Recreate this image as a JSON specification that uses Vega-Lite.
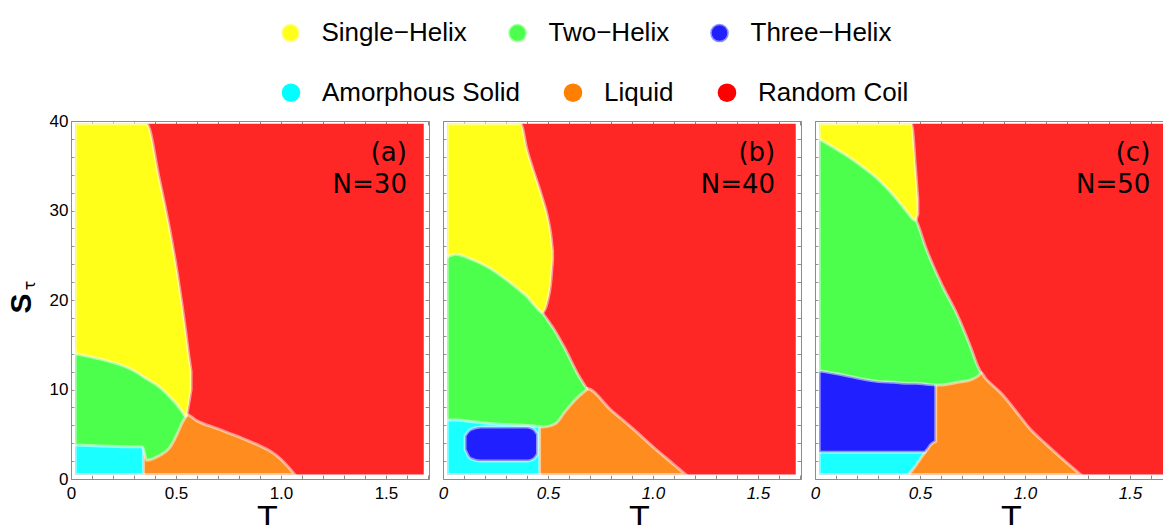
{
  "$schema": "https://vega.github.io/schema/vega-lite/v6.json",
  "background": "white",
  "padding": {"left": 5, "top": 19, "right": 0, "bottom": 0},
  "config": {
    "view": {"stroke": "#8c8c8c", "strokeWidth": 1},
    "axis": {
      "labelFont": "Liberation Sans", "labelFontSize": 17, "labelColor": "black",
      "tickColor": "#8c8c8c", "tickSize": -4, "domain": false, "grid": false,
      "labelFlush": false, "labelOverlap": false, "zindex": 1,
      "titleFont": "Liberation Sans", "titleColor": "black", "titleFontWeight": "normal"
    },
    "legend": {
      "orient": "none", "direction": "horizontal", "columns": 3, "columnPadding": 34, "title": null,
      "symbolType": "circle", "symbolSize": 346, "symbolStrokeWidth": 0, "symbolOpacity": 1,
      "labelFont": "Liberation Sans", "labelFontSize": 26, "labelOffset": 18, "labelLimit": 400, "labelColor": "black"
    },
    "area": {"stroke": "white", "strokeOpacity": 0.5, "strokeWidth": 3}
  },
  "datasets": {
    "regions": [
      {"p":"a","ph":"Random Coil","T":0.02,"lo":0.5,"hi":39.7},{"p":"a","ph":"Random Coil","T":1.68,"lo":0.5,"hi":39.7},
      {"p":"a","ph":"Liquid","T":0.33,"lo":0.5,"hi":3.8},{"p":"a","ph":"Liquid","T":0.36,"lo":0.5,"hi":2.8},{"p":"a","ph":"Liquid","T":0.42,"lo":0.5,"hi":3.1},{"p":"a","ph":"Liquid","T":0.47,"lo":0.5,"hi":4.0},{"p":"a","ph":"Liquid","T":0.505,"lo":0.5,"hi":5.5},{"p":"a","ph":"Liquid","T":0.53,"lo":0.5,"hi":6.8},{"p":"a","ph":"Liquid","T":0.55,"lo":0.5,"hi":7.2},{"p":"a","ph":"Liquid","T":0.6,"lo":0.5,"hi":6.5},{"p":"a","ph":"Liquid","T":0.7,"lo":0.5,"hi":5.6},{"p":"a","ph":"Liquid","T":0.8,"lo":0.5,"hi":4.7},{"p":"a","ph":"Liquid","T":0.9,"lo":0.5,"hi":3.7},{"p":"a","ph":"Liquid","T":0.95,"lo":0.5,"hi":3.1},{"p":"a","ph":"Liquid","T":1.0,"lo":0.5,"hi":2.2},{"p":"a","ph":"Liquid","T":1.04,"lo":0.5,"hi":1.2},{"p":"a","ph":"Liquid","T":1.065,"lo":0.5,"hi":0.5},
      {"p":"a","ph":"Amorphous Solid","T":0.02,"lo":0.5,"hi":4.2},{"p":"a","ph":"Amorphous Solid","T":0.2,"lo":0.5,"hi":4.1},{"p":"a","ph":"Amorphous Solid","T":0.3,"lo":0.5,"hi":4.0},{"p":"a","ph":"Amorphous Solid","T":0.345,"lo":0.5,"hi":3.9},
      {"p":"a","ph":"Two−Helix","T":0.02,"lo":3.8,"hi":14.5},{"p":"a","ph":"Two−Helix","T":0.14,"lo":3.7,"hi":13.9},{"p":"a","ph":"Two−Helix","T":0.3,"lo":3.6,"hi":12.6},{"p":"a","ph":"Two−Helix","T":0.34,"lo":3.6,"hi":12.0},{"p":"a","ph":"Two−Helix","T":0.36,"lo":2.1,"hi":11.7},{"p":"a","ph":"Two−Helix","T":0.42,"lo":2.6,"hi":10.8},{"p":"a","ph":"Two−Helix","T":0.47,"lo":3.5,"hi":9.7},{"p":"a","ph":"Two−Helix","T":0.505,"lo":5.0,"hi":8.8},{"p":"a","ph":"Two−Helix","T":0.53,"lo":6.3,"hi":8.0},{"p":"a","ph":"Two−Helix","T":0.548,"lo":7.0,"hi":7.3},
      {"p":"a","ph":"Single−Helix","T":0.02,"lo":14.0,"hi":39.7},{"p":"a","ph":"Single−Helix","T":0.14,"lo":13.4,"hi":39.7},{"p":"a","ph":"Single−Helix","T":0.3,"lo":12.1,"hi":39.7},{"p":"a","ph":"Single−Helix","T":0.36,"lo":11.2,"hi":39.7},{"p":"a","ph":"Single−Helix","T":0.42,"lo":10.3,"hi":33.6},{"p":"a","ph":"Single−Helix","T":0.47,"lo":9.2,"hi":27.9},{"p":"a","ph":"Single−Helix","T":0.505,"lo":8.3,"hi":23.2},{"p":"a","ph":"Single−Helix","T":0.53,"lo":7.5,"hi":19.3},{"p":"a","ph":"Single−Helix","T":0.548,"lo":7.0,"hi":16.2},{"p":"a","ph":"Single−Helix","T":0.56,"lo":8.3,"hi":14.0},{"p":"a","ph":"Single−Helix","T":0.572,"lo":10.0,"hi":12.0},

      {"p":"b","ph":"Random Coil","T":0.02,"lo":0.5,"hi":39.7},{"p":"b","ph":"Random Coil","T":1.68,"lo":0.5,"hi":39.7},
      {"p":"b","ph":"Liquid","T":0.44,"lo":0.5,"hi":6.2},{"p":"b","ph":"Liquid","T":0.473,"lo":0.5,"hi":6.3},{"p":"b","ph":"Liquid","T":0.537,"lo":0.5,"hi":6.7},{"p":"b","ph":"Liquid","T":0.58,"lo":0.5,"hi":8.0},{"p":"b","ph":"Liquid","T":0.645,"lo":0.5,"hi":9.7},{"p":"b","ph":"Liquid","T":0.685,"lo":0.5,"hi":10.1},{"p":"b","ph":"Liquid","T":0.8,"lo":0.5,"hi":7.7},{"p":"b","ph":"Liquid","T":0.9,"lo":0.5,"hi":5.7},{"p":"b","ph":"Liquid","T":1.0,"lo":0.5,"hi":3.6},{"p":"b","ph":"Liquid","T":1.1,"lo":0.5,"hi":1.6},{"p":"b","ph":"Liquid","T":1.155,"lo":0.5,"hi":0.5},
      {"p":"b","ph":"Amorphous Solid","T":0.02,"lo":0.5,"hi":7.0},{"p":"b","ph":"Amorphous Solid","T":0.15,"lo":0.5,"hi":7.0},{"p":"b","ph":"Amorphous Solid","T":0.3,"lo":0.5,"hi":6.6},{"p":"b","ph":"Amorphous Solid","T":0.46,"lo":0.5,"hi":6.2},
      {"p":"b","ph":"Three−Helix","T":0.105,"lo":3.3,"hi":4.8},{"p":"b","ph":"Three−Helix","T":0.13,"lo":2.3,"hi":5.5},{"p":"b","ph":"Three−Helix","T":0.18,"lo":2.0,"hi":5.8},{"p":"b","ph":"Three−Helix","T":0.3,"lo":2.0,"hi":5.8},{"p":"b","ph":"Three−Helix","T":0.4,"lo":2.0,"hi":5.8},{"p":"b","ph":"Three−Helix","T":0.43,"lo":2.2,"hi":5.6},{"p":"b","ph":"Three−Helix","T":0.45,"lo":2.8,"hi":5.0},
      {"p":"b","ph":"Two−Helix","T":0.02,"lo":6.6,"hi":25.3},{"p":"b","ph":"Two−Helix","T":0.06,"lo":6.6,"hi":25.6},{"p":"b","ph":"Two−Helix","T":0.14,"lo":6.4,"hi":25.0},{"p":"b","ph":"Two−Helix","T":0.22,"lo":6.2,"hi":24.1},{"p":"b","ph":"Two−Helix","T":0.3,"lo":6.1,"hi":22.8},{"p":"b","ph":"Two−Helix","T":0.378,"lo":6.0,"hi":21.3},{"p":"b","ph":"Two−Helix","T":0.44,"lo":5.9,"hi":19.8},{"p":"b","ph":"Two−Helix","T":0.473,"lo":5.8,"hi":18.6},{"p":"b","ph":"Two−Helix","T":0.537,"lo":6.2,"hi":16.4},{"p":"b","ph":"Two−Helix","T":0.58,"lo":7.5,"hi":14.6},{"p":"b","ph":"Two−Helix","T":0.645,"lo":9.2,"hi":11.6},{"p":"b","ph":"Two−Helix","T":0.685,"lo":10.0,"hi":10.1},
      {"p":"b","ph":"Single−Helix","T":0.02,"lo":24.8,"hi":39.7},{"p":"b","ph":"Single−Helix","T":0.06,"lo":25.1,"hi":39.7},{"p":"b","ph":"Single−Helix","T":0.14,"lo":24.5,"hi":39.7},{"p":"b","ph":"Single−Helix","T":0.22,"lo":23.6,"hi":39.7},{"p":"b","ph":"Single−Helix","T":0.3,"lo":22.3,"hi":39.7},{"p":"b","ph":"Single−Helix","T":0.37,"lo":21.0,"hi":39.7},{"p":"b","ph":"Single−Helix","T":0.4,"lo":20.4,"hi":36.8},{"p":"b","ph":"Single−Helix","T":0.44,"lo":19.3,"hi":33.8},{"p":"b","ph":"Single−Helix","T":0.473,"lo":18.6,"hi":31.4},{"p":"b","ph":"Single−Helix","T":0.497,"lo":19.8,"hi":29.4},{"p":"b","ph":"Single−Helix","T":0.513,"lo":21.9,"hi":27.4},{"p":"b","ph":"Single−Helix","T":0.522,"lo":24.5,"hi":25.5},

      {"p":"c","ph":"Random Coil","T":0.02,"lo":0.5,"hi":39.7},{"p":"c","ph":"Random Coil","T":1.68,"lo":0.5,"hi":39.7},
      {"p":"c","ph":"Liquid","T":0.43,"lo":0.5,"hi":3.4},{"p":"c","ph":"Liquid","T":0.5,"lo":0.5,"hi":3.4},{"p":"c","ph":"Liquid","T":0.54,"lo":0.5,"hi":4.5},{"p":"c","ph":"Liquid","T":0.56,"lo":0.5,"hi":8.0},{"p":"c","ph":"Liquid","T":0.575,"lo":0.5,"hi":11.0},{"p":"c","ph":"Liquid","T":0.64,"lo":0.5,"hi":11.0},{"p":"c","ph":"Liquid","T":0.7,"lo":0.5,"hi":11.2},{"p":"c","ph":"Liquid","T":0.79,"lo":0.5,"hi":11.9},{"p":"c","ph":"Liquid","T":0.81,"lo":0.5,"hi":11.3},{"p":"c","ph":"Liquid","T":0.89,"lo":0.5,"hi":9.5},{"p":"c","ph":"Liquid","T":0.956,"lo":0.5,"hi":7.6},{"p":"c","ph":"Liquid","T":1.02,"lo":0.5,"hi":5.7},{"p":"c","ph":"Liquid","T":1.1,"lo":0.5,"hi":3.9},{"p":"c","ph":"Liquid","T":1.19,"lo":0.5,"hi":2.0},{"p":"c","ph":"Liquid","T":1.265,"lo":0.5,"hi":0.5},
      {"p":"c","ph":"Amorphous Solid","T":0.02,"lo":0.5,"hi":3.4},{"p":"c","ph":"Amorphous Solid","T":0.44,"lo":0.5,"hi":3.4},{"p":"c","ph":"Amorphous Solid","T":0.47,"lo":1.2,"hi":3.4},{"p":"c","ph":"Amorphous Solid","T":0.5,"lo":2.2,"hi":3.4},{"p":"c","ph":"Amorphous Solid","T":0.525,"lo":3.0,"hi":3.4},
      {"p":"c","ph":"Three−Helix","T":0.02,"lo":3.0,"hi":12.6},{"p":"c","ph":"Three−Helix","T":0.14,"lo":3.0,"hi":12.0},{"p":"c","ph":"Three−Helix","T":0.3,"lo":3.0,"hi":11.4},{"p":"c","ph":"Three−Helix","T":0.45,"lo":3.0,"hi":11.2},{"p":"c","ph":"Three−Helix","T":0.52,"lo":3.0,"hi":11.2},{"p":"c","ph":"Three−Helix","T":0.535,"lo":3.3,"hi":11.2},{"p":"c","ph":"Three−Helix","T":0.55,"lo":3.8,"hi":11.2},{"p":"c","ph":"Three−Helix","T":0.575,"lo":4.2,"hi":11.2},
      {"p":"c","ph":"Two−Helix","T":0.02,"lo":12.1,"hi":38.5},{"p":"c","ph":"Two−Helix","T":0.14,"lo":11.6,"hi":36.8},{"p":"c","ph":"Two−Helix","T":0.22,"lo":11.2,"hi":35.5},{"p":"c","ph":"Two−Helix","T":0.3,"lo":10.9,"hi":34.0},{"p":"c","ph":"Two−Helix","T":0.378,"lo":10.8,"hi":32.1},{"p":"c","ph":"Two−Helix","T":0.44,"lo":10.7,"hi":30.3},{"p":"c","ph":"Two−Helix","T":0.48,"lo":10.7,"hi":29.0},{"p":"c","ph":"Two−Helix","T":0.53,"lo":10.6,"hi":25.7},{"p":"c","ph":"Two−Helix","T":0.6,"lo":10.5,"hi":21.9},{"p":"c","ph":"Two−Helix","T":0.68,"lo":10.8,"hi":18.2},{"p":"c","ph":"Two−Helix","T":0.745,"lo":11.1,"hi":14.5},{"p":"c","ph":"Two−Helix","T":0.775,"lo":11.5,"hi":12.6},{"p":"c","ph":"Two−Helix","T":0.79,"lo":11.8,"hi":11.9},
      {"p":"c","ph":"Single−Helix","T":0.02,"lo":38.0,"hi":39.7},{"p":"c","ph":"Single−Helix","T":0.14,"lo":36.3,"hi":39.7},{"p":"c","ph":"Single−Helix","T":0.22,"lo":35.0,"hi":39.7},{"p":"c","ph":"Single−Helix","T":0.3,"lo":33.5,"hi":39.7},{"p":"c","ph":"Single−Helix","T":0.378,"lo":31.6,"hi":39.7},{"p":"c","ph":"Single−Helix","T":0.44,"lo":29.8,"hi":39.7},{"p":"c","ph":"Single−Helix","T":0.46,"lo":29.2,"hi":39.7},{"p":"c","ph":"Single−Helix","T":0.478,"lo":28.9,"hi":35.0},{"p":"c","ph":"Single−Helix","T":0.49,"lo":29.6,"hi":31.2}
    ],
    "labels": [
      {"p":"a","id":"(a)","n":"N=30"},
      {"p":"b","id":"(b)","n":"N=40"},
      {"p":"c","id":"(c)","n":"N=50"}
    ],
    "legend2": [
      {"name": "Amorphous Solid"},
      {"name": "Liquid"},
      {"name": "Random Coil"}
    ]
  },
  "spacing": 7,
  "hconcat": [
    {
      "width": 358, "height": 358,
      "layer": [
        {
          "data": {"name": "regions"},
          "transform": [{"filter": "datum.p === 'a'"}],
          "encoding": {
            "x": {"field": "T", "type": "quantitative", "scale": {"domain": [0, 1.705], "nice": false, "zero": false},
              "axis": {"orient": "bottom", "values": [0,0.1,0.2,0.3,0.4,0.5,0.6,0.7,0.8,0.9,1,1.1,1.2,1.3,1.4,1.5,1.6,1.7],
                "labelExpr": "datum.value === 0 ? '0' : (abs(datum.value * 2 - round(datum.value * 2)) < 0.001 ? format(datum.value, '.1f') : '')",
                "labelPadding": 10, "title": "T", "titleFontSize": 34, "titleX": 196, "titleY": 49, "titleAlign": "center", "titleBaseline": "alphabetic"}},
            "y": {"field": "lo", "type": "quantitative", "scale": {"domain": [0, 40], "nice": false, "zero": false},
              "axis": {"orient": "left", "values": [0,2,4,6,8,10,12,14,16,18,20,22,24,26,28,30,32,34,36,38,40],
                "labelExpr": "datum.value % 10 === 0 ? datum.label : ''", "labelPadding": 7,
                "title": "S", "titleFontSize": 30, "titleFontWeight": "bold", "titleAngle": 270, "titleX": -50, "titleY": 182, "titleAlign": "center", "titleBaseline": "middle"}},
            "y2": {"field": "hi"},
            "color": {"field": "ph", "type": "nominal",
              "scale": {"domain": ["Single−Helix","Two−Helix","Three−Helix","Amorphous Solid","Liquid","Random Coil"], "range": ["#ffff1a","#4dff4d","#1f1fff","#1affff","#ff8c1f","#ff2626"]},
              "legend": {"values": ["Single−Helix","Two−Helix","Three−Helix"], "legendX": 206.5, "legendY": -101.3,
                "encode": {"symbols": {"update": {"opacity": {"value": 1}, "strokeWidth": {"value": 0}, "fill": {"signal": "datum.value === 'Single−Helix' ? '#ffff00' : datum.value === 'Two−Helix' ? '#00ff00' : '#0000ff'"}}}}}}
          },
          "layer": [
            {"transform": [{"filter": "datum.ph === 'Random Coil'"}], "mark": {"type": "area", "strokeWidth": 0}},
            {"transform": [{"filter": "datum.ph === 'Liquid'"}], "mark": {"type": "area", "interpolate": "monotone"}},
            {"transform": [{"filter": "datum.ph === 'Amorphous Solid'"}], "mark": {"type": "area", "interpolate": "monotone"}},
            {"transform": [{"filter": "datum.ph === 'Three−Helix'"}], "mark": {"type": "area", "interpolate": "monotone"}},
            {"transform": [{"filter": "datum.ph === 'Two−Helix'"}], "mark": {"type": "area", "interpolate": "monotone"}},
            {"transform": [{"filter": "datum.ph === 'Single−Helix'"}], "mark": {"type": "area", "interpolate": "monotone"}}
          ]
        },
        {
          "data": {"name": "regions"},
          "transform": [{"filter": "datum.p === 'a' && datum.ph === 'Random Coil'"}],
          "mark": {"type": "area", "opacity": 0, "strokeWidth": 0},
          "encoding": {
            "x": {"field": "T", "type": "quantitative", "axis": {"orient": "top", "values": [0,0.1,0.2,0.3,0.4,0.5,0.6,0.7,0.8,0.9,1,1.1,1.2,1.3,1.4,1.5,1.6,1.7], "labels": false, "title": null}},
            "y": {"field": "lo", "type": "quantitative", "axis": {"orient": "right", "values": [0,2,4,6,8,10,12,14,16,18,20,22,24,26,28,30,32,34,36,38,40], "labels": false, "title": null}},
            "y2": {"field": "hi"}
          }
        },
        {
          "data": {"name": "legend2"},
          "mark": {"type": "point", "filled": true, "opacity": 0},
          "encoding": {
            "fill": {"field": "name", "type": "nominal",
              "scale": {"domain": ["Amorphous Solid","Liquid","Random Coil"], "range": ["#00ffff","#ff8000","#ff0000"]},
              "legend": {"legendX": 207, "legendY": -41.3, "columnPadding": 40,
                "encode": {"symbols": {"update": {"opacity": {"value": 1}, "strokeWidth": {"value": 0}}}}}}
          }
        },
        {
          "data": {"name": "labels"},
          "transform": [{"filter": "datum.p === 'a'"}],
          "mark": {"type": "text", "align": "right", "baseline": "alphabetic", "font": "DejaVu Sans", "fontSize": 26, "color": "black"},
          "encoding": {
            "x": {"datum": 1.6, "type": "quantitative", "axis": null},
            "y": {"datum": 35.5, "type": "quantitative", "axis": null},
            "text": {"field": "id"}
          }
        },
        {
          "data": {"name": "labels"},
          "transform": [{"filter": "datum.p === 'a'"}],
          "mark": {"type": "text", "align": "right", "baseline": "alphabetic", "font": "DejaVu Sans", "fontSize": 26, "color": "black"},
          "encoding": {
            "x": {"datum": 1.6, "type": "quantitative", "axis": null},
            "y": {"datum": 31.9, "type": "quantitative", "axis": {"orient": "left", "labels": false, "ticks": false, "domain": false, "title": "τ", "titleFont": "DejaVu Sans", "titleFontSize": 16, "titleAngle": 270, "titleX": -42, "titleY": 164, "titleAlign": "center", "titleBaseline": "middle"}},
            "text": {"field": "n"}
          }
        }
      ],
      "resolve": {"axis": {"x": "independent", "y": "independent"}}
    },
    {
      "width": 358, "height": 358,
      "layer": [
        {
          "data": {"name": "regions"},
          "transform": [{"filter": "datum.p === 'b'"}],
          "encoding": {
            "x": {"field": "T", "type": "quantitative", "scale": {"domain": [0, 1.705], "nice": false, "zero": false},
              "axis": {"orient": "bottom", "values": [0,0.1,0.2,0.3,0.4,0.5,0.6,0.7,0.8,0.9,1,1.1,1.2,1.3,1.4,1.5,1.6,1.7],
                "labelExpr": "datum.value === 0 ? '0' : (abs(datum.value * 2 - round(datum.value * 2)) < 0.001 ? format(datum.value, '.1f') : '')",
                "labelFontStyle": "italic",
                "labelPadding": 10, "title": "T", "titleFontSize": 34, "titleX": 196, "titleY": 49, "titleAlign": "center", "titleBaseline": "alphabetic"}},
            "y": {"field": "lo", "type": "quantitative", "scale": {"domain": [0, 40], "nice": false, "zero": false},
              "axis": {"orient": "left", "values": [0,2,4,6,8,10,12,14,16,18,20,22,24,26,28,30,32,34,36,38,40], "labels": false, "title": null}},
            "y2": {"field": "hi"},
            "color": {"field": "ph", "type": "nominal",
              "scale": {"domain": ["Single−Helix","Two−Helix","Three−Helix","Amorphous Solid","Liquid","Random Coil"], "range": ["#ffff1a","#4dff4d","#1f1fff","#1affff","#ff8c1f","#ff2626"]},
              "legend": {"values": ["Single−Helix","Two−Helix","Three−Helix"], "legendX": 206.5, "legendY": -101.3,
                "encode": {"symbols": {"update": {"opacity": {"value": 1}, "strokeWidth": {"value": 0}, "fill": {"signal": "datum.value === 'Single−Helix' ? '#ffff00' : datum.value === 'Two−Helix' ? '#00ff00' : '#0000ff'"}}}}}}
          },
          "layer": [
            {"transform": [{"filter": "datum.ph === 'Random Coil'"}], "mark": {"type": "area", "strokeWidth": 0}},
            {"transform": [{"filter": "datum.ph === 'Liquid'"}], "mark": {"type": "area", "interpolate": "monotone"}},
            {"transform": [{"filter": "datum.ph === 'Amorphous Solid'"}], "mark": {"type": "area", "interpolate": "monotone"}},
            {"transform": [{"filter": "datum.ph === 'Three−Helix'"}], "mark": {"type": "area", "interpolate": "monotone"}},
            {"transform": [{"filter": "datum.ph === 'Two−Helix'"}], "mark": {"type": "area", "interpolate": "monotone"}},
            {"transform": [{"filter": "datum.ph === 'Single−Helix'"}], "mark": {"type": "area", "interpolate": "monotone"}}
          ]
        },
        {
          "data": {"name": "regions"},
          "transform": [{"filter": "datum.p === 'b' && datum.ph === 'Random Coil'"}],
          "mark": {"type": "area", "opacity": 0, "strokeWidth": 0},
          "encoding": {
            "x": {"field": "T", "type": "quantitative", "axis": {"orient": "top", "values": [0,0.1,0.2,0.3,0.4,0.5,0.6,0.7,0.8,0.9,1,1.1,1.2,1.3,1.4,1.5,1.6,1.7], "labels": false, "title": null}},
            "y": {"field": "lo", "type": "quantitative", "axis": {"orient": "right", "values": [0,2,4,6,8,10,12,14,16,18,20,22,24,26,28,30,32,34,36,38,40], "labels": false, "title": null}},
            "y2": {"field": "hi"}
          }
        },
        {
          "data": {"name": "labels"},
          "transform": [{"filter": "datum.p === 'b'"}],
          "mark": {"type": "text", "align": "right", "baseline": "alphabetic", "font": "DejaVu Sans", "fontSize": 26, "color": "black"},
          "encoding": {
            "x": {"datum": 1.582, "type": "quantitative", "axis": null},
            "y": {"datum": 35.5, "type": "quantitative", "axis": null},
            "text": {"field": "id"}
          }
        },
        {
          "data": {"name": "labels"},
          "transform": [{"filter": "datum.p === 'b'"}],
          "mark": {"type": "text", "align": "right", "baseline": "alphabetic", "font": "DejaVu Sans", "fontSize": 26, "color": "black"},
          "encoding": {
            "x": {"datum": 1.582, "type": "quantitative", "axis": null},
            "y": {"datum": 31.9, "type": "quantitative", "axis": null},
            "text": {"field": "n"}
          }
        }
      ],
      "resolve": {"axis": {"x": "independent", "y": "independent"}}
    },
    {
      "width": 358, "height": 358,
      "layer": [
        {
          "data": {"name": "regions"},
          "transform": [{"filter": "datum.p === 'c'"}],
          "encoding": {
            "x": {"field": "T", "type": "quantitative", "scale": {"domain": [0, 1.705], "nice": false, "zero": false},
              "axis": {"orient": "bottom", "values": [0,0.1,0.2,0.3,0.4,0.5,0.6,0.7,0.8,0.9,1,1.1,1.2,1.3,1.4,1.5,1.6,1.7],
                "labelExpr": "datum.value === 0 ? '0' : (abs(datum.value * 2 - round(datum.value * 2)) < 0.001 ? format(datum.value, '.1f') : '')",
                "labelFontStyle": "italic",
                "labelPadding": 10, "title": "T", "titleFontSize": 34, "titleX": 196, "titleY": 49, "titleAlign": "center", "titleBaseline": "alphabetic"}},
            "y": {"field": "lo", "type": "quantitative", "scale": {"domain": [0, 40], "nice": false, "zero": false},
              "axis": {"orient": "left", "values": [0,2,4,6,8,10,12,14,16,18,20,22,24,26,28,30,32,34,36,38,40], "labels": false, "title": null}},
            "y2": {"field": "hi"},
            "color": {"field": "ph", "type": "nominal",
              "scale": {"domain": ["Single−Helix","Two−Helix","Three−Helix","Amorphous Solid","Liquid","Random Coil"], "range": ["#ffff1a","#4dff4d","#1f1fff","#1affff","#ff8c1f","#ff2626"]},
              "legend": {"values": ["Single−Helix","Two−Helix","Three−Helix"], "legendX": 206.5, "legendY": -101.3,
                "encode": {"symbols": {"update": {"opacity": {"value": 1}, "strokeWidth": {"value": 0}, "fill": {"signal": "datum.value === 'Single−Helix' ? '#ffff00' : datum.value === 'Two−Helix' ? '#00ff00' : '#0000ff'"}}}}}}
          },
          "layer": [
            {"transform": [{"filter": "datum.ph === 'Random Coil'"}], "mark": {"type": "area", "strokeWidth": 0}},
            {"transform": [{"filter": "datum.ph === 'Liquid'"}], "mark": {"type": "area", "interpolate": "monotone"}},
            {"transform": [{"filter": "datum.ph === 'Amorphous Solid'"}], "mark": {"type": "area", "interpolate": "monotone"}},
            {"transform": [{"filter": "datum.ph === 'Three−Helix'"}], "mark": {"type": "area", "interpolate": "monotone"}},
            {"transform": [{"filter": "datum.ph === 'Two−Helix'"}], "mark": {"type": "area", "interpolate": "monotone"}},
            {"transform": [{"filter": "datum.ph === 'Single−Helix'"}], "mark": {"type": "area", "interpolate": "monotone"}}
          ]
        },
        {
          "data": {"name": "regions"},
          "transform": [{"filter": "datum.p === 'c' && datum.ph === 'Random Coil'"}],
          "mark": {"type": "area", "opacity": 0, "strokeWidth": 0},
          "encoding": {
            "x": {"field": "T", "type": "quantitative", "axis": {"orient": "top", "values": [0,0.1,0.2,0.3,0.4,0.5,0.6,0.7,0.8,0.9,1,1.1,1.2,1.3,1.4,1.5,1.6,1.7], "labels": false, "title": null}},
            "y": {"field": "lo", "type": "quantitative", "axis": {"orient": "right", "values": [0,2,4,6,8,10,12,14,16,18,20,22,24,26,28,30,32,34,36,38,40], "labels": false, "title": null}},
            "y2": {"field": "hi"}
          }
        },
        {
          "data": {"name": "labels"},
          "transform": [{"filter": "datum.p === 'c'"}],
          "mark": {"type": "text", "align": "right", "baseline": "alphabetic", "font": "DejaVu Sans", "fontSize": 26, "color": "black"},
          "encoding": {
            "x": {"datum": 1.597, "type": "quantitative", "axis": null},
            "y": {"datum": 35.5, "type": "quantitative", "axis": null},
            "text": {"field": "id"}
          }
        },
        {
          "data": {"name": "labels"},
          "transform": [{"filter": "datum.p === 'c'"}],
          "mark": {"type": "text", "align": "right", "baseline": "alphabetic", "font": "DejaVu Sans", "fontSize": 26, "color": "black"},
          "encoding": {
            "x": {"datum": 1.597, "type": "quantitative", "axis": null},
            "y": {"datum": 31.9, "type": "quantitative", "axis": null},
            "text": {"field": "n"}
          }
        }
      ],
      "resolve": {"axis": {"x": "independent", "y": "independent"}}
    }
  ]
}
